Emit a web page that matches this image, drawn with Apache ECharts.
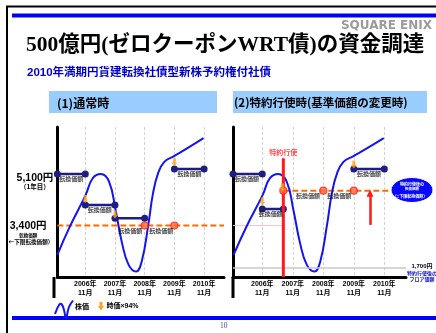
<!DOCTYPE html>
<html lang="ja">
<head>
<meta charset="UTF-8">
<title>500億円(ゼロクーポンWRT債)の資金調達</title>
<script src="https://cdn.jsdelivr.net/npm/echarts@6/dist/echarts.min.js"></script>
<style>html,body{margin:0;padding:0;background:#fff;}</style>
</head>
<body>
<div id="main" style="width:436px;height:333px;"></div>
<script>
// x軸：各年11月
var years = [2006, 2007, 2008, 2009, 2010];

// 株価（模式図・両パネル共通）
var stockX = [2005.06, 2005.48, 2006.01, 2006.25, 2006.52, 2006.80, 2007.02, 2007.24, 2007.46, 2007.71, 2007.90, 2008.12, 2008.28, 2008.45, 2008.66, 2008.99, 2009.44, 2009.98];
var stockY = [2430, 3360, 4400, 4960, 5100, 4850, 3910, 2810, 2100, 1880, 2210, 3410, 4460, 5120, 5500, 5690, 5950, 6280];

// (1) 通常時
var normalFrom = [2005.06, 2006, 2007, 2009];
var normalTo = [2006, 2007, 2008, 2010];
var normalPrice = [5100, 4080, 3640, 5260];
var normalFloor = 3400;
var normalFloorDots = [2008, 2009];
var normalArrowX = [2006, 2007, 2009];
var normalArrowY = [4270, 3760, 5490];
var normalLabelX = [2005.53, 2006.49, 2007.51, 2008.56, 2009.51];
var normalLabelY = [5100, 4080, 3400, 3400, 5260];

// (2) 特約行使時
var exerciseX = 2006.69;
var exerciseTop = 5620;
var revisedFrom = [2005.04, 2006, 2009];
var revisedTo = [2006, 2006.69, 2010];
var revisedPrice = [5100, 3940, 5260];
var revisedFloor = 4550;
var revisedFloorEnd = 2010.5;
var revisedFloorDots = [2006.69, 2008, 2009];
var revisedArrowX = [2006, 2006.66, 2009];
var revisedArrowY = [4190, 4650, 5410];
var revisedLabelX = [2005.5, 2006.28, 2007.5, 2008.52, 2009.5];
var revisedLabelY = [5100, 3940, 4550, 4550, 5260];
var oldFloor = 3400;
var afterFloor = 2010;   // 1,700円の線（図上の位置）
var riseArrowX = 2009.53;
var riseArrowY = [3420, 4460];

var yMin = 1700, yMax = 6650;
var xRange = [[2005.06, 2010.67], [2005.04, 2010.71]];

var blue = '#1414f0', navy = '#1e1e82', orange = '#ff6a00', gold = '#ffa21a', red = '#ff1a1a';
var jp = '"Noto Sans CJK JP", sans-serif';
var latin = '"Liberation Sans", "Noto Sans CJK JP", sans-serif';
var arrowPath = 'path://M2,0 L6,0 L6,6 L8,6 L4,11 L0,6 L2,6 Z';

function zip(xs, ys) {
    var out = [];
    for (var i = 0; i < xs.length; i++) out.push([xs[i], ys[i]]);
    return out;
}

var series = [];

function addCurve(idx) {
    series.push({
        name: '株価', type: 'line', xAxisIndex: idx, yAxisIndex: idx,
        data: zip(stockX, stockY), smooth: 0.45, symbol: 'none',
        lineStyle: {color: blue, width: 2}, z: 3, silent: true
    });
}
function addSteps(idx, from, to, price) {
    for (var i = 0; i < from.length; i++) {
        series.push({
            type: 'line', xAxisIndex: idx, yAxisIndex: idx,
            data: [[from[i], price[i]], [to[i], price[i]]],
            symbol: 'circle', symbolSize: 7, showSymbol: true,
            lineStyle: {color: navy, width: 2.5}, itemStyle: {color: navy},
            z: 4, silent: true
        });
    }
}
function addDots(idx, xs, v) {
    series.push({
        type: 'scatter', xAxisIndex: idx, yAxisIndex: idx,
        data: xs.map(function (x) { return [x, v]; }),
        symbol: 'circle', symbolSize: 7,
        itemStyle: {color: '#ff6a3a', borderColor: red, borderWidth: 1.2},
        z: 6, silent: true
    });
}
function addArrows(idx, xs, ys) {
    series.push({
        name: '時価×94%', type: 'scatter', xAxisIndex: idx, yAxisIndex: idx,
        data: zip(xs, ys), symbol: arrowPath, symbolSize: [6, 8],
        itemStyle: {color: gold}, z: 7, silent: true
    });
}
function addLabels(idx, xs, ys) {
    series.push({
        type: 'scatter', xAxisIndex: idx, yAxisIndex: idx,
        data: zip(xs, ys), symbolSize: 1, itemStyle: {color: 'rgba(0,0,0,0)'},
        label: {show: true, position: 'bottom', distance: 1.5, formatter: '転換価額',
            fontSize: 6, fontWeight: 'bold', color: '#111', fontFamily: jp},
        z: 8, silent: true
    });
}

// (1) 通常時
series.push({
    type: 'line', xAxisIndex: 0, yAxisIndex: 0,
    data: [[xRange[0][0], normalFloor], [xRange[0][1], normalFloor]],
    symbol: 'none', lineStyle: {color: orange, width: 2, type: [6, 3]}, z: 2, silent: true
});
addCurve(0);
addSteps(0, normalFrom, normalTo, normalPrice);
addDots(0, normalFloorDots, normalFloor);
addArrows(0, normalArrowX, normalArrowY);
addLabels(0, normalLabelX, normalLabelY);

// (2) 特約行使時
series.push({
    type: 'line', xAxisIndex: 1, yAxisIndex: 1,
    data: [[xRange[1][0], oldFloor], [exerciseX, oldFloor]],
    symbol: 'none', lineStyle: {color: '#f4c8c8', width: 1}, z: 1, silent: true,
    markLine: {
        silent: true, symbol: 'none', label: {
            show: true, position: 'end', distance: 1,
            formatter: '{e| }\n{p|1,700円}\n{b|特約行使後の}\n{b|フロア価額}',
            rich: {
                e: {lineHeight: 10, fontSize: 5},
                p: {fontSize: 6, fontWeight: 'bold', color: '#000', lineHeight: 7, align: 'center', fontFamily: latin},
                b: {fontSize: 5, fontWeight: 'bold', color: '#1010c0', lineHeight: 6, align: 'center', fontFamily: jp}
            }
        },
        lineStyle: {color: '#c8c8c8', width: 1.5, type: 'solid'},
        data: [{yAxis: afterFloor}]
    }
});
series.push({
    type: 'line', xAxisIndex: 1, yAxisIndex: 1,
    data: [[exerciseX, revisedFloor], [revisedFloorEnd, revisedFloor]],
    symbol: 'none', lineStyle: {color: orange, width: 2, type: [6, 3]}, z: 2, silent: true
});
addCurve(1);
series.push({
    type: 'line', xAxisIndex: 1, yAxisIndex: 1,
    data: [[exerciseX, yMin], [exerciseX, exerciseTop]],
    symbol: 'none', lineStyle: {color: red, width: 3}, z: 5, silent: true,
    markLine: {
        silent: true, symbol: ['none', 'triangle'], symbolSize: [7, 7],
        label: {show: false},
        lineStyle: {color: red, width: 2.5, type: 'solid'},
        data: [[{coord: [riseArrowX, riseArrowY[0]]}, {coord: [riseArrowX, riseArrowY[1]]}]]
    }
});
series.push({
    type: 'scatter', xAxisIndex: 1, yAxisIndex: 1,
    data: [[exerciseX, exerciseTop]], symbolSize: 1, itemStyle: {color: 'rgba(0,0,0,0)'},
    label: {show: true, position: 'top', distance: 2, formatter: '特約行使',
        fontSize: 7, fontWeight: 'bold', color: red, fontFamily: jp},
    z: 8, silent: true
});
addSteps(1, revisedFrom, revisedTo, revisedPrice);
addDots(1, revisedFloorDots, revisedFloor);
addArrows(1, revisedArrowX, revisedArrowY);
addLabels(1, revisedLabelX, revisedLabelY);

function xAxisFor(idx) {
    return {
        type: 'value', gridIndex: idx, min: xRange[idx][0], max: xRange[idx][1],
        axisLine: {onZero: false, lineStyle: {color: '#000', width: 3}},
        axisTick: {show: false, customValues: years},
        axisLabel: {
            customValues: years, margin: 3, fontSize: 7, fontWeight: 'bold', color: '#000',
            lineHeight: 9, fontFamily: latin,
            formatter: function (v) { return v + '年\n11月'; }
        },
        splitLine: {show: true, lineStyle: {color: '#d4d4d4', width: 1, type: [3, 2]}}
    };
}
function yAxisFor(idx) {
    var ax = {
        type: 'value', gridIndex: idx, min: yMin, max: yMax,
        axisLine: {show: true, onZero: false, lineStyle: {color: '#000', width: 3}},
        axisTick: {show: false}, splitLine: {show: false},
        axisLabel: {show: false}
    };
    if (idx === 0) {
        ax.axisLabel = {
            show: true, customValues: [normalFloor, 5100], margin: 4,
            formatter: function (v) {
                if (v === 5100) return '{e| }\n{p|5,100円}\n{s|（1年目）}';
                return '{e| }\n{p|3,400円}\n{t|転換価額}\n{s2|（←下限転換価額）}';
            },
            rich: {
                e: {lineHeight: 16, fontSize: 5},
                p: {fontSize: 10.5, fontWeight: 'bold', color: '#000', lineHeight: 10, align: 'center', fontFamily: latin},
                s: {fontSize: 6.5, fontWeight: 'bold', color: '#000', lineHeight: 8, align: 'center', fontFamily: jp},
                t: {fontSize: 4.5, fontWeight: 'bold', color: '#000', lineHeight: 7, align: 'center', fontFamily: jp},
                s2: {fontSize: 5.6, fontWeight: 'bold', color: '#000', lineHeight: 7, align: 'center', fontFamily: jp}
            }
        };
    }
    return ax;
}

var txt = function (x, y, text, size, color, extra) {
    var st = {text: text, fontSize: size, fontWeight: 'bold', fill: color, fontFamily: jp,
        align: 'left', verticalAlign: 'middle'};
    for (var k in extra) st[k] = extra[k];
    return {type: 'text', x: x, y: y, z: 100, style: st, silent: true};
};

var graphics = [
    // 枠線と帯
    {type: 'line', z: 100, shape: {x1: 6, y1: 6.5, x2: 436, y2: 6.5}, style: {stroke: '#000', lineWidth: 2}},
    {type: 'line', z: 100, shape: {x1: 7, y1: 6, x2: 7, y2: 333}, style: {stroke: '#000', lineWidth: 2}},
    {type: 'rect', z: 100, shape: {x: 12, y: 13.5, width: 424, height: 4}, style: {fill: '#0000ff'}},
    {type: 'rect', z: 100, shape: {x: 12, y: 316, width: 424, height: 4}, style: {fill: '#0000ff'}},
    txt(432, 26, 'SQUARE ENIX', 12, '#9a9a9a', {align: 'right', fontFamily: '"DejaVu Sans", sans-serif'}),
    txt(26, 45, '500億円(ゼロクーポンWRT債)の資金調達', 21.5, '#000', {fontFamily: '"Liberation Serif", "Noto Sans CJK JP", serif'}),
    txt(27, 72.5, '2010年満期円貨建転換社債型新株予約権付社債', 11.5, '#0000cc', {fontFamily: latin}),
    // パネル見出し
    {type: 'rect', z: 90, shape: {x: 49, y: 91, width: 168, height: 22}, style: {fill: '#99ccff'}},
    {type: 'rect', z: 90, shape: {x: 233, y: 91, width: 194, height: 22}, style: {fill: '#99ccff'}},
    txt(57, 103, '(1)通常時', 12, '#000'),
    txt(234, 103, '(2)特約行使時(基準価額の変更時)', 11.5, '#000'),
    // 軸の下端
    {type: 'line', z: 100, shape: {x1: 54, y1: 277, x2: 54, y2: 298}, style: {stroke: '#000', lineWidth: 3}},
    {type: 'line', z: 100, shape: {x1: 233, y1: 277, x2: 233, y2: 298}, style: {stroke: '#000', lineWidth: 3}},
    // 楕円の注記
    {type: 'ellipse', z: 100, shape: {cx: 412, cy: 190, rx: 21, ry: 12.5}, style: {fill: '#0808ff', stroke: '#fff', lineWidth: 1}},
    txt(412, 184, '特約行使後の', 4, '#fff', {align: 'center'}),
    txt(412, 189, '転換価額', 3.5, '#fff', {align: 'center'}),
    txt(410, 196.5, '（=下限転換価額）', 4, '#fff', {align: 'center'}),
    // 凡例
    {type: 'polyline', z: 100, shape: {points: [[55, 314], [59, 305], [61.5, 304], [64, 310], [66, 318], [69, 307], [73, 300.5]], smooth: 0.4},
        style: {stroke: blue, lineWidth: 2, fill: null}},
    txt(75, 306.5, '株価', 7, '#000'),
    {type: 'polygon', z: 100, shape: {points: [[99.5, 302], [102.5, 302], [102.5, 306], [104, 306], [101, 310.5], [98, 306], [99.5, 306]]}, style: {fill: gold}},
    txt(106.5, 306.5, '時価×94%', 7, '#000', {fontFamily: latin}),
    txt(220, 326, '10', 7.5, '#4040c0', {fontFamily: '"Liberation Serif", serif', fontWeight: 'normal'})
];

var chart = echarts.init(document.getElementById('main'));
chart.setOption({
    animation: false,
    backgroundColor: '#fff',
    grid: [
        {left: 54, top: 127, width: 170, height: 150},
        {left: 233, top: 127, width: 173, height: 150}
    ],
    xAxis: [xAxisFor(0), xAxisFor(1)],
    yAxis: [yAxisFor(0), yAxisFor(1)],
    series: series,
    graphic: graphics
});
</script>
</body>
</html>
